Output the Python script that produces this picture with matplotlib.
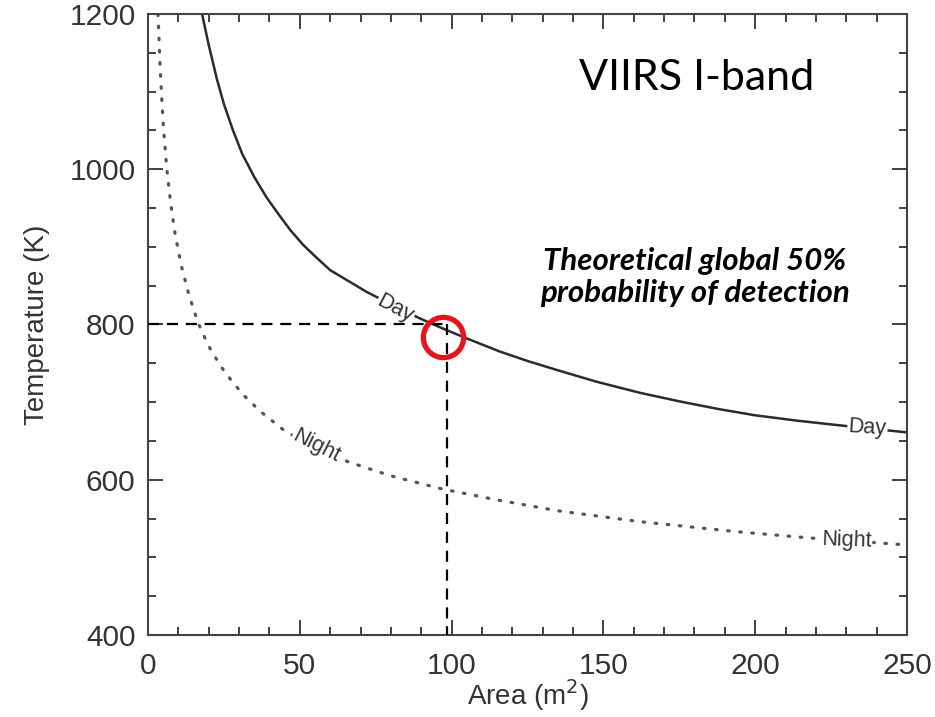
import numpy as np
import matplotlib
matplotlib.use("Agg")
import matplotlib.pyplot as plt
from matplotlib.ticker import MultipleLocator

# values
day_area = [17.8, 20, 22.7, 25, 28, 31, 35, 39, 43, 47, 51, 55, 60, 66, 72,
            80, 90, 97, 105, 116, 125, 135, 148, 162, 175, 188, 200, 214,
            228, 240, 250]
day_temp = [1200, 1160, 1116, 1084, 1050, 1020, 990, 964, 942, 921, 903,
            888, 870, 856, 842, 826, 807, 795, 782, 765, 753, 741, 726, 712,
            701, 691, 683, 676, 670, 665, 661]

night_area = [3.3, 4, 5, 6.2, 7.5, 9, 11, 13.5, 16.5, 20, 24, 28, 32, 37,
              45, 55, 66, 80, 97, 115, 135, 162, 194, 218, 250]
night_temp = [1200, 1130, 1058, 1000, 955, 915, 875, 838, 802, 772, 746,
              725, 707, 688, 663, 641, 623, 605, 588, 574, 560, 546, 533,
              525, 516]

detect_area = 98.5
detect_temp = 800

xticks = [0, 50, 100, 150, 200, 250]
yticks = [400, 600, 800, 1000, 1200]

plt.rcParams['font.family'] = ['Liberation Sans', 'DejaVu Sans']

fig = plt.figure(figsize=(9.35, 7.17), dpi=100)
ax = fig.add_axes([0.1583, 0.1144, 0.8117, 0.8661])

ax.plot(day_area, day_temp, color='#2b2b2b', lw=1.8, zorder=2)
ax.plot(night_area, night_temp, color='#555555', lw=2.3,
        linestyle=(0, (0.5, 3.3)), dash_capstyle='round', zorder=2)

# inline curve labels (white box makes the gap in the line)
box = dict(facecolor='white', edgecolor='none', pad=0.8)
lab = dict(fontsize=15.5, color='#333333', ha='center', va='center',
           bbox=box, zorder=3)
ax.text(81.5, 820, 'Day', rotation=-28, **lab)
ax.text(55.3, 643, 'Night', rotation=-27, **lab)
ax.text(237, 667, 'Day', rotation=-4, **lab)
ax.text(230, 522, 'Night', rotation=-2, **lab)

# dashed guide lines to the 50% point
ax.plot([0, detect_area], [detect_temp, detect_temp], color='black', lw=1.6,
        linestyle=(0, (5, 3.5)), zorder=4)
ax.plot([detect_area, detect_area], [detect_temp, 400], color='black', lw=1.6,
        linestyle=(0, (5, 3.5)), zorder=4, clip_on=False)
ax.plot([97.2], [784], marker='o', markersize=29, mfc='none', mec='#e8141b',
        mew=3.8, zorder=5)

ax.set_xlim(0, 250)
ax.set_ylim(400, 1200)
ax.set_xticks(xticks)
ax.set_yticks(yticks)
ax.xaxis.set_minor_locator(MultipleLocator(10))
ax.yaxis.set_minor_locator(MultipleLocator(50))
ax.tick_params(which='both', direction='in', top=True, right=True,
               color='#333333', width=1.3)
ax.tick_params(which='major', length=11, labelsize=21.5, colors='#333333')
ax.tick_params(which='minor', length=6)
ax.tick_params(axis='x', pad=12)
ax.tick_params(axis='y', pad=9)
for s in ax.spines.values():
    s.set_color('#444444')
    s.set_linewidth(1.5)

ax.set_xlabel('Area (m$^2$)', fontsize=20, color='#333333', labelpad=-2)
ax.set_ylabel('Temperature (K)', fontsize=20, color='#333333', labelpad=14)

fig.text(697 / 935, 1 - 78 / 717, 'VIIRS I-band', family='Lato', fontsize=31,
         ha='center', va='center', color='black')
fig.text(695 / 935, 1 - 277 / 717,
         'Theoretical global 50%\nprobability of detection', family='Lato',
         fontsize=22.5, fontweight='bold', fontstyle='italic', ha='center',
         va='center', linespacing=1.2, color='black')

fig.savefig('out.png', dpi=100)
